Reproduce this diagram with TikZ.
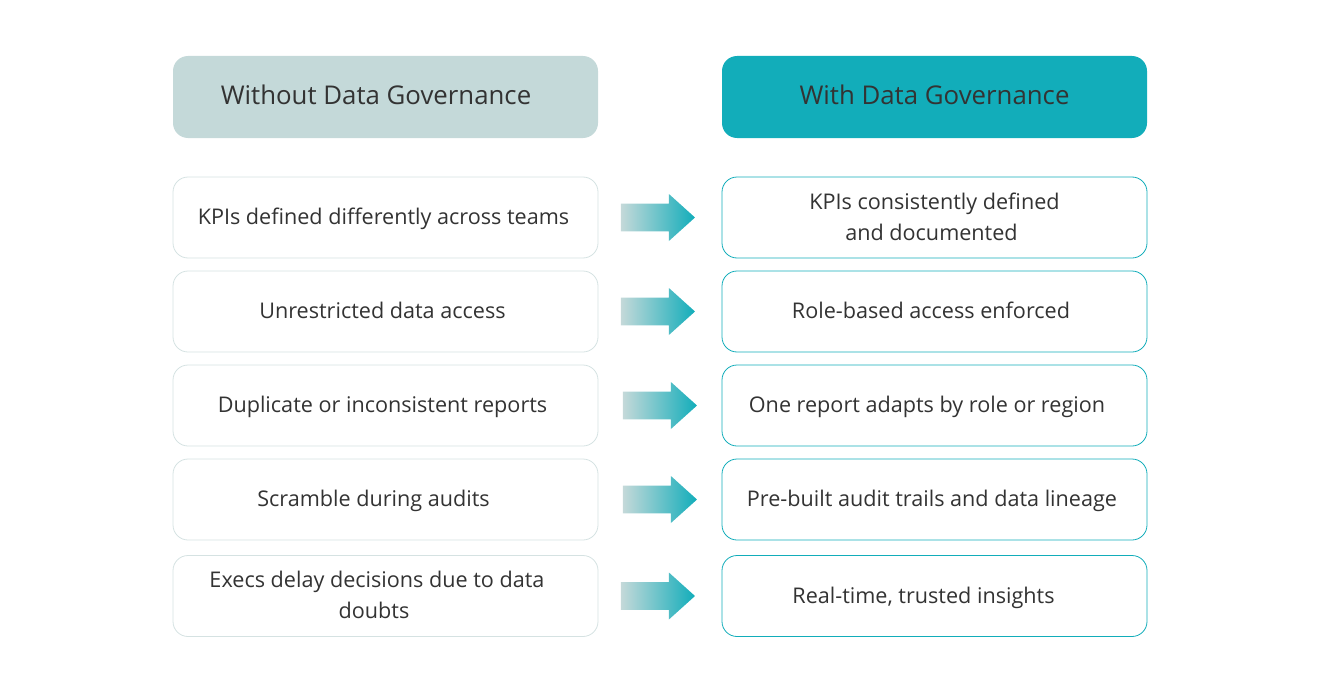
\documentclass[tikz,border=0pt]{standalone}
\usepackage{fontspec}
\setmainfont{Open Sans}
\usetikzlibrary{positioning}
\usetikzlibrary{shapes.arrows}
\definecolor{tealdark}{HTML}{12ADBA}
\definecolor{teallight}{HTML}{C4D9D9}
\definecolor{inktext}{HTML}{333333}
\definecolor{greyedge}{HTML}{D5E2E2}
\tikzset{
  headbox/.style={rounded corners=15pt,minimum width=425pt,minimum height=82pt},
  headtext/.style={text=inktext,font=\fontsize{25.8}{30}\selectfont},
  leftbox/.style={draw=greyedge,fill=white,rounded corners=15pt,minimum width=425pt,minimum height=81pt,line width=0.8pt},
  rightbox/.style={draw=tealdark,fill=white,rounded corners=15pt,minimum width=425pt,minimum height=81pt,line width=0.8pt},
  boxtext/.style={text=inktext,font=\fontsize{21.6}{30.5}\selectfont,align=center},
  blockarrow/.style={single arrow,minimum height=74pt,minimum width=47pt,text height=20pt,text depth=0pt,
    inner sep=0pt,single arrow head indent=0pt,single arrow tip angle=84,left color=teallight,right color=tealdark}
}
\begin{document}
\begin{tikzpicture}[x=1pt,y=-1pt]
\useasboundingbox (0,0) rectangle (1320,693);
% entetes
\node[headbox,fill=teallight] (headL) at (385.5,97) {};
\node[headbox,fill=tealdark] (headR) at (934.5,97) {};
\node[headtext] (headLt) at (376,95) {Without Data Governance};
\node[headtext] (headRt) at (934.5,95) {With Data Governance};
% boites
\foreach \n/\y in {1/217.5,2/311.5,3/405.5,4/499.5,5/596}
{
  \node[leftbox] (L\n) at (385.5,\y) {};
  \node[rightbox] (R\n) at (934.5,\y) {};
}
% textes
\node[boxtext] (Lt1) at (383.5,219) {KPIs defined differently across teams};
\node[boxtext] (Lt2) at (382.5,310) {Unrestricted data access};
\node[boxtext] (Lt3) at (382.5,407) {Duplicate or inconsistent reports};
\node[boxtext] (Lt4) at (373.5,501) {Scramble during audits};
\node[boxtext] (Lt5) at (377,595) {Execs delay decisions due to data\\doubts\kern6pt};
\node[boxtext] (Rt1) at (934.5,217) {KPIs consistently defined\\and documented\kern6pt};
\node[boxtext] (Rt2) at (931,310) {Role-based access enforced};
\node[boxtext] (Rt3) at (927,407) {One report adapts by role or region};
\node[boxtext] (Rt4) at (932,501) {Pre-built audit trails and data lineage};
\node[boxtext] (Rt5) at (923.5,598) {Real-time, trusted insights};
% fleches
\foreach \n/\x/\y in {1/650.3/217.5,2/650.3/311.5,3/652.3/405.5,4/652.3/499.5,5/650.3/596}
{
  \node[blockarrow] (A\n) at (\x,\y) {};
}
\end{tikzpicture}
\end{document}
